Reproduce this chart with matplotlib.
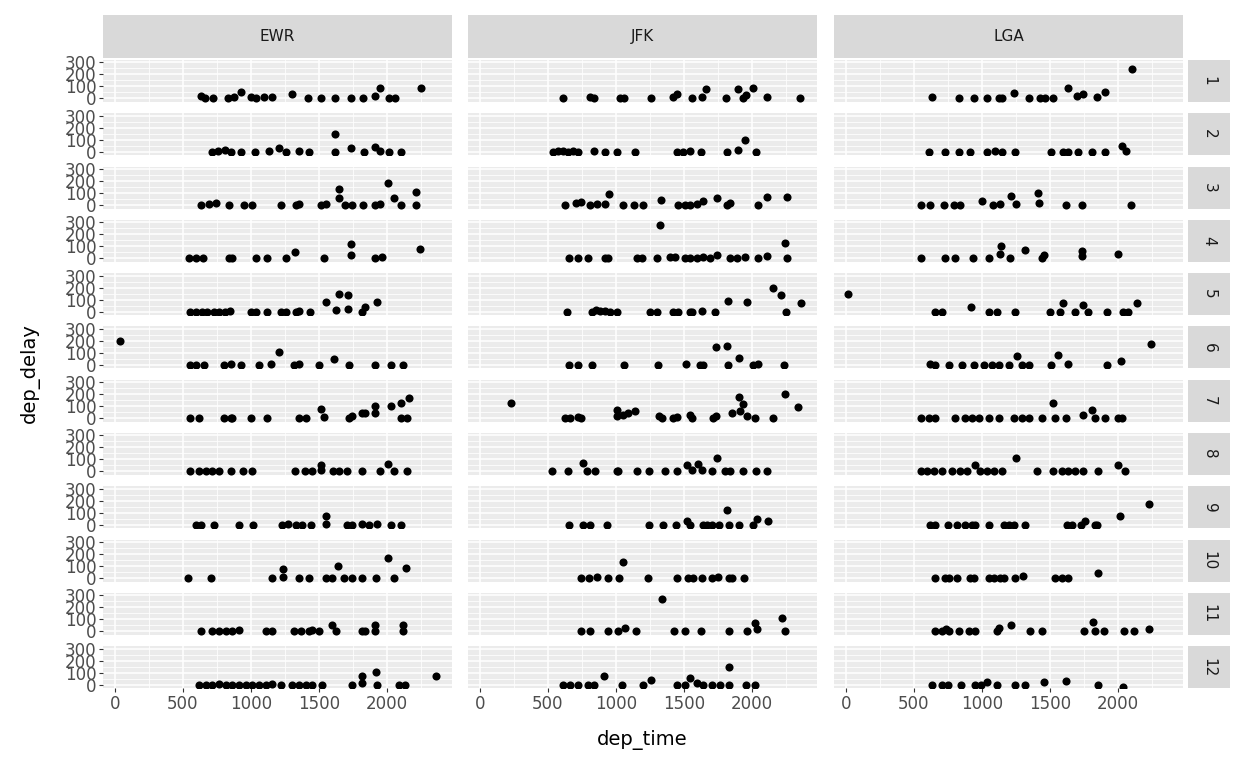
import matplotlib
matplotlib.use("Agg")
import matplotlib.pyplot as plt
from matplotlib.ticker import MultipleLocator

AIRPORTS = ["EWR", "JFK", "LGA"]
MONTHS = [str(i) for i in range(1, 13)]

EWR_TIME = [
    [631,663,721,834,875,924,998,1034,1095,1157,1303,1421,1511,1616,1731,1824,1914,1946,2012,2054,2245],
    [716,760,809,851,924,1029,1132,1205,1254,1352,1425,1616,1616,1731,1829,1914,1951,2012,2105],
    [631,692,741,839,949,1010,1218,1328,1352,1511,1548,1646,1646,1694,1743,1824,1914,1951,2007,2049,2098,2215,2215],
    [545,594,648,839,863,1034,1120,1254,1323,1535,1736,1736,1914,1963,2240],
    [550,594,638,680,729,765,809,846,998,1034,1120,1218,1254,1328,1352,1433,1548,1628,1646,1712,1712,1817,1841,1926],
    [37,550,594,655,802,851,924,1059,1144,1205,1315,1352,1499,1609,1719,1914,2031,2115],
    [550,618,802,851,863,998,1120,1352,1401,1511,1535,1719,1743,1817,1841,1909,1909,2025,2098,2159,2098,2147],
    [550,618,667,716,765,851,941,1010,1323,1396,1450,1518,1518,1602,1646,1707,1817,1946,2007,2049,2147],
    [594,631,729,912,1015,1225,1271,1328,1377,1438,1548,1548,1707,1743,1817,1865,1926,2025,2105],
    [540,709,1157,1235,1235,1352,1425,1553,1597,1641,1682,1743,1817,1919,2007,2049,2139],
    [631,716,765,814,863,912,1108,1157,1315,1364,1425,1450,1499,1597,1621,1817,1841,1914,1914,2115,2115],
    [619,667,716,765,814,863,912,961,1010,1059,1108,1157,1218,1303,1352,1401,1450,1523,1743,1817,1817,1919,1927,2086,2134,2359],
]
EWR_DELAY = [
    [20,5,0,0,10,50,10,0,10,15,35,0,0,5,0,5,20,85,0,0,90],
    [0,5,15,0,0,0,5,30,0,10,0,150,0,30,0,40,10,0,0],
    [0,10,20,0,0,0,0,0,5,0,10,130,60,0,0,0,0,10,180,60,0,105,0],
    [0,0,0,5,0,0,0,0,55,0,120,25,0,10,75],
    [0,0,0,0,0,0,0,5,0,0,0,0,0,0,5,0,80,15,150,135,20,0,35,80],
    [200,0,0,0,0,5,0,0,10,105,0,10,0,50,0,0,0,0],
    [0,0,0,0,0,0,0,0,0,80,10,0,20,40,40,105,40,105,130,165,0,0],
    [0,0,0,0,0,0,0,0,0,0,0,55,10,0,0,0,0,0,65,0,0],
    [0,0,0,0,0,0,5,0,0,0,70,10,0,0,10,0,10,0,0],
    [0,0,0,75,10,0,0,0,0,100,0,0,0,0,170,0,85],
    [0,0,0,5,0,10,0,0,0,0,0,10,0,55,0,0,0,50,0,50,0],
    [0,0,0,5,0,0,0,0,0,0,0,5,0,0,0,0,0,0,0,70,10,105,0,0,0,75],
]
JFK_TIME = [
    [613,809,838,1029,1058,1257,1421,1446,1556,1629,1661,1808,1894,1936,1955,2004,2107,2352],
    [539,576,613,649,686,723,838,919,1005,1139,1446,1494,1543,1622,1813,1899,1948,2029],
    [625,710,747,809,858,919,951,1054,1132,1201,1328,1458,1507,1543,1592,1637,1740,1813,1838,2046,2112,2254],
    [657,723,796,919,944,1152,1188,1299,1323,1397,1433,1507,1543,1592,1641,1690,1740,1838,1887,1948,2046,2107,2242,2254],
    [642,821,853,882,919,956,1009,1250,1299,1421,1458,1543,1556,1629,1727,1825,1960,2151,2212,2249,2359],
    [657,723,821,1058,1311,1514,1617,1637,1735,1813,1825,1906,2009,2046,2234],
    [233,625,662,723,747,1005,1005,1049,1090,1139,1318,1336,1416,1446,1543,1556,1715,1733,1850,1906,1935,1911,1960,2021,2156,2242,2340],
    [534,649,760,784,845,1005,1017,1152,1245,1360,1446,1519,1556,1605,1629,1703,1740,1801,1838,1936,2029,2107],
    [657,755,813,936,1245,1348,1441,1519,1543,1637,1666,1703,1759,1833,1818,1906,2009,2034,2119],
    [740,804,858,943,1024,1054,1237,1446,1531,1568,1629,1703,1752,1833,1850,1943],
    [740,809,943,1017,1066,1147,1340,1426,1507,1622,1833,1960,2021,2034,2222,2242],
    [613,662,723,796,838,911,1041,1201,1254,1446,1507,1543,1592,1641,1703,1764,1833,1833,1955,2021],
]
JFK_DELAY = [
    [0,10,0,0,0,0,10,40,0,10,75,5,80,0,30,90,15,0],
    [0,5,5,0,10,0,10,0,0,0,0,0,5,0,0,15,100,0],
    [0,15,25,0,5,10,95,0,0,0,40,0,0,0,10,30,55,0,15,0,70,70],
    [0,0,0,0,0,0,0,0,275,10,15,0,0,5,10,0,25,0,0,10,5,20,125,0],
    [0,0,10,5,5,0,0,0,0,0,0,0,0,5,0,85,80,200,135,0,70],
    [0,0,0,0,0,10,0,0,150,155,0,55,0,10,0],
    [130,0,0,10,5,70,20,30,40,60,20,0,0,10,25,0,0,20,40,175,120,60,20,0,0,200,95],
    [0,0,70,0,0,0,0,0,0,0,0,50,10,60,10,0,110,0,0,0,0,0],
    [0,0,0,0,0,0,0,35,0,0,0,0,0,0,120,0,0,50,30],
    [0,0,10,0,0,135,0,0,0,0,0,5,10,0,0,0],
    [0,0,0,0,25,0,270,0,0,0,0,0,70,20,115,0],
    [0,0,0,0,0,70,0,0,40,0,0,55,15,0,0,0,150,0,0,0],
]
LGA_TIME = [
    [634,830,939,1037,1122,1147,1232,1342,1427,1464,1525,1635,1696,1745,1842,1903,2098],
    [610,732,830,915,1037,1098,1147,1245,1508,1598,1635,1708,1806,1903,2025,2057],
    [556,622,720,793,842,1000,1079,1135,1215,1249,1415,1420,1615,1732,2094],
    [556,732,800,932,1049,1142,1135,1208,1318,1444,1452,1732,1737,2001],
    [17,654,708,922,1049,1110,1245,1501,1574,1598,1684,1745,1781,1916,2037,2074,2135],
    [622,654,756,854,939,1013,1074,1127,1196,1257,1293,1342,1508,1557,1630,1916,2020,2240],
    [549,610,659,800,878,927,976,1049,1127,1232,1293,1342,1440,1525,1537,1615,1745,1806,1830,1903,2001,2025],
    [549,598,647,708,781,842,891,947,988,1037,1086,1147,1252,1403,1525,1586,1635,1684,1745,1850,1996,2049],
    [622,654,751,818,878,927,952,1054,1159,1196,1232,1318,1623,1659,1727,1757,1830,1842,2013,2225],
    [654,732,761,818,915,939,1054,1086,1135,1159,1245,1305,1537,1586,1630,1854],
    [654,708,737,756,835,903,952,1110,1127,1215,1354,1440,1752,1813,1830,1898,2045,2118,2225],
    [630,708,751,849,952,996,1037,1110,1245,1313,1452,1615,1854,2037],
]
LGA_DELAY = [
    [10,0,0,0,0,0,45,0,0,0,0,90,20,40,10,50,245],
    [0,0,0,0,0,5,0,0,0,0,0,0,0,0,50,5],
    [0,0,0,0,0,35,0,5,75,5,100,20,0,0,0],
    [0,0,0,0,0,100,40,0,70,0,25,60,20,35],
    [145,0,0,35,0,0,0,0,0,70,0,55,0,0,0,0,70],
    [10,0,0,0,0,0,0,0,0,70,0,0,0,85,10,0,35,175],
    [0,0,0,0,0,0,0,0,0,0,0,0,0,125,0,0,25,70,0,0,0,0],
    [0,0,0,0,0,0,0,55,0,0,0,0,110,0,0,0,0,0,0,0,50,0],
    [0,0,0,0,0,0,0,0,0,0,0,0,0,0,0,30,0,0,75,170],
    [0,0,0,0,0,0,0,0,0,0,0,20,0,0,0,40],
    [0,0,20,0,0,0,0,0,30,50,0,0,0,75,0,0,0,0,20],
    [0,0,0,0,0,0,20,0,0,0,20,30,0,-20],
]
DATA = {"EWR": (EWR_TIME, EWR_DELAY), "JFK": (JFK_TIME, JFK_DELAY), "LGA": (LGA_TIME, LGA_DELAY)}

W, H = 1248, 768
fig = plt.figure(figsize=(W / 100, H / 100), dpi=100)
col_left = [103, 468, 834]
pw = 349
row_top0, row_step, ph = 60, 53.3, 42
strip_top, strip_h = 15, 43
grey_txt = "#4D4D4D"

def ax_at(x, y, w, h):
    return fig.add_axes([x / W, 1 - (y + h) / H, w / W, h / H])

for c, ap in enumerate(AIRPORTS):
    s = ax_at(col_left[c], strip_top, pw, strip_h)
    s.set_facecolor("#D9D9D9"); s.set_xticks([]); s.set_yticks([])
    for sp in s.spines.values(): sp.set_visible(False)
    s.text(0.5, 0.5, ap, ha="center", va="center", fontsize=11, color="#1A1A1A")
    times, delays = DATA[ap]
    for r in range(12):
        top = row_top0 + r * row_step
        ax = ax_at(col_left[c], top, pw, ph)
        ax.set_facecolor("#EBEBEB")
        ax.set_xlim(-86, 2476); ax.set_ylim(-30, 320)
        ax.xaxis.set_major_locator(MultipleLocator(500)); ax.xaxis.set_minor_locator(MultipleLocator(250))
        ax.yaxis.set_major_locator(MultipleLocator(100)); ax.yaxis.set_minor_locator(MultipleLocator(50))
        ax.grid(which="major", color="white", lw=1.1)
        ax.grid(which="minor", color="white", lw=0.55)
        ax.set_axisbelow(True)
        for sp in ax.spines.values(): sp.set_visible(False)
        ax.tick_params(which="minor", length=0)
        ax.tick_params(which="major", length=3, color="#333333", labelcolor=grey_txt, labelsize=12, pad=1.5)
        if c != 0:
            ax.tick_params(axis="y", left=False, labelleft=False)
        if r != 11:
            ax.tick_params(axis="x", bottom=False, labelbottom=False)
        ax.scatter(times[r], delays[r], s=34, color="black", linewidths=0, zorder=3)
        if c == 2:
            st = ax_at(1188, top, 42, ph)
            st.set_facecolor("#D9D9D9"); st.set_xticks([]); st.set_yticks([])
            for sp in st.spines.values(): sp.set_visible(False)
            st.text(0.5, 0.5, MONTHS[r], rotation=-90, ha="center", va="center", fontsize=11, color="#1A1A1A")

fig.text(642 / W, 1 - 740 / H, "dep_time", ha="center", va="center", fontsize=14)
fig.text(30 / W, 1 - 373 / H, "dep_delay", ha="center", va="center", rotation=90, fontsize=14)
fig.savefig("out.png", dpi=100, facecolor="white")
